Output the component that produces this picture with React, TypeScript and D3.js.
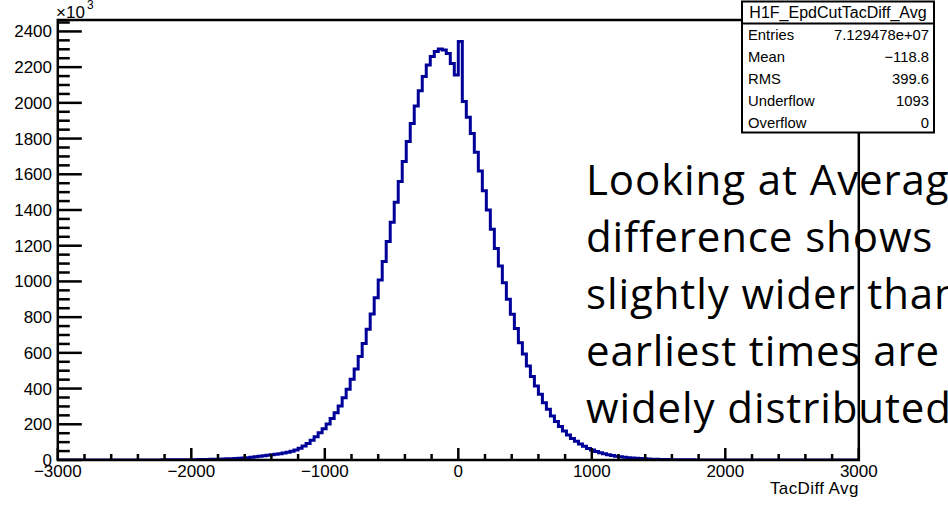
import React from "react";
import * as d3 from "d3";

// Histogram H1F_EpdCutTacDiff_Avg: 200 bins over [-3000, 3000], contents in units of 10^3
const binLow = -3000;
const binHigh = 3000;
const binCounts: number[] = [
  // 0-9
  0.1, 0.1, 0.1, 0.1, 0.1, 0.1, 0.1, 0.1, 0.1, 0.1,
  // 10-19
  0.15, 0.15, 0.2, 0.2, 0.2, 0.25, 0.25, 0.3, 0.3, 0.35,
  // 20-29
  0.4, 0.45, 0.5, 0.55, 0.6, 0.7, 0.8, 0.9, 1.0, 1.1,
  // 30-39
  1.2, 1.4, 1.6, 1.8, 2.0, 2.3, 2.7, 3.1, 3.6, 4.2,
  // 40-49
  4.9, 5.7, 6.6, 7.6, 8.8, 10.1, 11.6, 13.3, 15.2, 17.8,
  // 50-59
  21, 23.5, 26, 29, 32, 35.5, 39.5, 44, 49.5, 56,
  // 60-69
  66, 78, 92, 111, 130, 152, 175, 202, 232, 265,
  // 70-79
  302, 349, 396, 452, 510, 579, 653, 732, 818, 909,
  // 80-89
  1008, 1111, 1223, 1331, 1443, 1559, 1671, 1783, 1885, 1982,
  // 90-99
  2068, 2147, 2212, 2259, 2287, 2302, 2296, 2277, 2221, 2156,
  // 100-109
  2343, 2007, 1919, 1829, 1723, 1618, 1508, 1400, 1292, 1185,
  // 110-119
  1086, 993, 900, 816, 737, 657, 594, 526, 467, 414,
  // 120-129
  368, 321, 284, 246, 215, 187, 162, 140, 121, 105,
  // 130-139
  90, 77, 65, 56, 48, 41, 35, 30, 25.5, 21.5,
  // 140-149
  18.5, 15.5, 13, 11, 9.3, 7.8, 6.6, 5.5, 4.6, 3.9,
  // 150-159
  3.3, 2.8, 2.4, 2.0, 1.7, 1.4, 1.2, 1.0, 0.85, 0.7,
  // 160-169
  0.6, 0.5, 0.45, 0.4, 0.35, 0.3, 0.25, 0.2, 0.2, 0.15,
  // 170-179
  0.1, 0.1, 0.1, 0.1, 0.1, 0.1, 0.1, 0.1, 0.1, 0.1,
  // 180-189
  0.1, 0.1, 0.1, 0.1, 0.1, 0.1, 0.1, 0.1, 0.1, 0.1,
  // 190-199
  0.1, 0.1, 0.1, 0.1, 0.1, 0.1, 0.1, 0.1, 0.1, 0.1,
];

const xMajorTicks = [-3000, -2000, -1000, 0, 1000, 2000, 3000];
const xTickLabels = ["\u22123000", "\u22122000", "\u22121000", "0", "1000", "2000", "3000"];
const yMajorTicks = [0, 200, 400, 600, 800, 1000, 1200, 1400, 1600, 1800, 2000, 2200, 2400];
const yMax = 2464;

const statsTitle = "H1F_EpdCutTacDiff_Avg";
const statsLabels = ["Entries", "Mean", "RMS", "Underflow", "Overflow"];
const statsValues = ["7.129478e+07", "\u2212118.8", "399.6", "1093", "0"];

const xAxisTitle = "TacDiff Avg";
const noteLines = [
  "Looking at Average",
  "difference shows",
  "slightly wider than",
  "earliest times are",
  "widely distributed",
];

const W = 948;
const H = 505;
const frame = { left: 57.8, right: 858.8, top: 20, bottom: 460 };
const FONT = "'Liberation Sans', Arial, Helvetica, sans-serif";
const HIST_COLOR = "#000099";

export default function App() {
  const x = d3.scaleLinear().domain([binLow, binHigh]).range([frame.left, frame.right]);
  const y = d3.scaleLinear().domain([0, yMax]).range([frame.bottom, frame.top]);
  const nb = binCounts.length;
  const bw = (binHigh - binLow) / nb;

  const pts: [number, number][] = [[x(binLow), y(0)]];
  binCounts.forEach((v, i) => {
    const lo = binLow + i * bw;
    const hi = lo + bw;
    pts.push([x(lo), y(v)]);
    pts.push([x(hi), y(v)]);
  });
  pts.push([x(binHigh), y(0)]);
  const histPath = d3.line()(pts) || "";

  const xMinor: number[] = d3.range(binLow, binHigh + 1, 200).filter((v) => v % 1000 !== 0);
  const yMinor: number[] = d3.range(0, yMax, 50).filter((v) => v % 200 !== 0);

  const box = { x: 742, y: 1.5, w: 192, h: 131, titleH: 22 };
  const rowBase = [39.5, 61.5, 83.5, 105.8, 127.8];

  return (
    <svg
      width={W}
      height={H}
      style={{ position: "absolute", left: 0, top: 0, background: "#fff" }}
      fontFamily={FONT}
    >
      <defs>
        <clipPath id="frameClip">
          <rect x={frame.left} y={frame.top} width={frame.right - frame.left} height={frame.bottom - frame.top} />
        </clipPath>
      </defs>
      <rect x={0} y={0} width={W} height={H} fill="#fff" />

      {/* histogram */}
      <path
        d={histPath}
        fill="none"
        stroke={HIST_COLOR}
        strokeWidth={3}
        strokeLinejoin="miter"
        clipPath="url(#frameClip)"
      />

      {/* frame */}
      <rect
        x={frame.left}
        y={frame.top}
        width={frame.right - frame.left}
        height={frame.bottom - frame.top}
        fill="none"
        stroke="#000"
        strokeWidth={2.5}
      />

      {/* x ticks */}
      {xMajorTicks.map((t) => (
        <line key={"xM" + t} x1={x(t)} x2={x(t)} y1={frame.bottom} y2={frame.bottom - 12} stroke="#000" strokeWidth={2.5} />
      ))}
      {xMinor.map((t) => (
        <line key={"xm" + t} x1={x(t)} x2={x(t)} y1={frame.bottom} y2={frame.bottom - 6} stroke="#000" strokeWidth={2.5} />
      ))}
      {xMajorTicks.map((t, i) => (
        <text key={"xl" + t} x={x(t)} y={477} fontSize={17} textAnchor="middle" fill="#000">
          {xTickLabels[i]}
        </text>
      ))}
      <text x={frame.right} y={494} fontSize={17} textAnchor="end" fill="#000" letterSpacing={0.4}>
        {xAxisTitle}
      </text>

      {/* y ticks */}
      {yMajorTicks.map((t) => (
        <line key={"yM" + t} x1={frame.left} x2={frame.left + 24} y1={y(t)} y2={y(t)} stroke="#000" strokeWidth={2.5} />
      ))}
      {yMinor.map((t) => (
        <line key={"ym" + t} x1={frame.left} x2={frame.left + 12} y1={y(t)} y2={y(t)} stroke="#000" strokeWidth={2.5} />
      ))}
      {yMajorTicks.map((t) => (
        <text key={"yl" + t} x={52} y={y(t) + 6} fontSize={17} textAnchor="end" fill="#000">
          {String(t)}
        </text>
      ))}
      <text x={56} y={17.5} fontSize={17} fill="#000">
        {"\u00d710"}
      </text>
      <text x={87} y={9} fontSize={12} fill="#000">
        3
      </text>

      {/* stats box */}
      <rect x={box.x} y={box.y} width={box.w} height={box.h} fill="#fff" stroke="#000" strokeWidth={2} />
      <line x1={box.x} x2={box.x + box.w} y1={box.y + box.titleH} y2={box.y + box.titleH} stroke="#000" strokeWidth={2} />
      <text x={box.x + box.w / 2} y={18} fontSize={16} textAnchor="middle" fill="#000">
        {statsTitle}
      </text>
      {statsLabels.map((l, i) => (
        <g key={l}>
          <text x={748} y={rowBase[i]} fontSize={14.8} fill="#000">
            {l}
          </text>
          <text x={929} y={rowBase[i]} fontSize={14.8} textAnchor="end" fill="#000">
            {statsValues[i]}
          </text>
        </g>
      ))}

      {/* annotation overlay */}
      {noteLines.map((l, i) => (
        <text
          key={"n" + i}
          x={586}
          y={195 + i * 57}
          fontSize={42}
          letterSpacing={0.9}
          fontFamily="'Open Sans', 'Noto Sans', sans-serif"
          fill="#000"
        >
          {l}
        </text>
      ))}
    </svg>
  );
}
